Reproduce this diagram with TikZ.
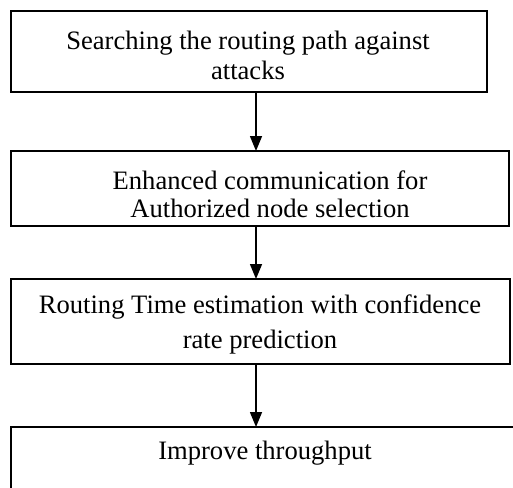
\documentclass[tikz,border=0pt]{standalone}
\usepackage{fontspec}
\setmainfont{Liberation Serif}
\usetikzlibrary{arrows.meta}
\begin{document}
\begin{tikzpicture}[x=0.5pt,y=-0.5pt,
  box/.style={draw, line width=0.75pt, inner sep=0pt, outer sep=0pt},
  txt/.style={align=center, inner sep=0pt, font=\fontsize{13.3}{15}\selectfont},
  arr/.style={line width=0.75pt, -{Triangle[width=6pt,length=7.5pt]}}]
\useasboundingbox (0,0) rectangle (513,487);
\clip (0,0) rectangle (513,487);
\fill[white] (0,0) rectangle (513,487);
\node[box, minimum width=238pt, minimum height=40.5pt] (b1) at (249,51.5) {};
\node[box, minimum width=249pt, minimum height=37.5pt] (b2) at (260,188.5) {};
\node[box, minimum width=249.5pt, minimum height=42.5pt] (b3) at (260.5,321.5) {};
\node[box, minimum width=264.5pt, minimum height=46.5pt] (b4) at (275.5,473.5) {};
\node[txt, font=\fontsize{13.3}{15}\selectfont] (t1) at (248,55) {Searching the routing path against\\attacks};
\node[txt, font=\fontsize{13.3}{14}\selectfont] (t2) at (270,194) {Enhanced communication for\\Authorized node selection};
\node[txt, font=\fontsize{13.3}{17.5}\selectfont] (t3) at (260,324.5) {Routing Time estimation with confidence\\rate prediction};
\node[txt] (t4) at (265,453) {Improve throughput};
\coordinate (ax) at (256,0);
\draw[arr] (b1.south -| ax) -- (b2.north -| ax);
\draw[arr] (b2.south -| ax) -- (b3.north -| ax);
\draw[arr] (b3.south -| ax) -- (b4.north -| ax);
\end{tikzpicture}
\end{document}
